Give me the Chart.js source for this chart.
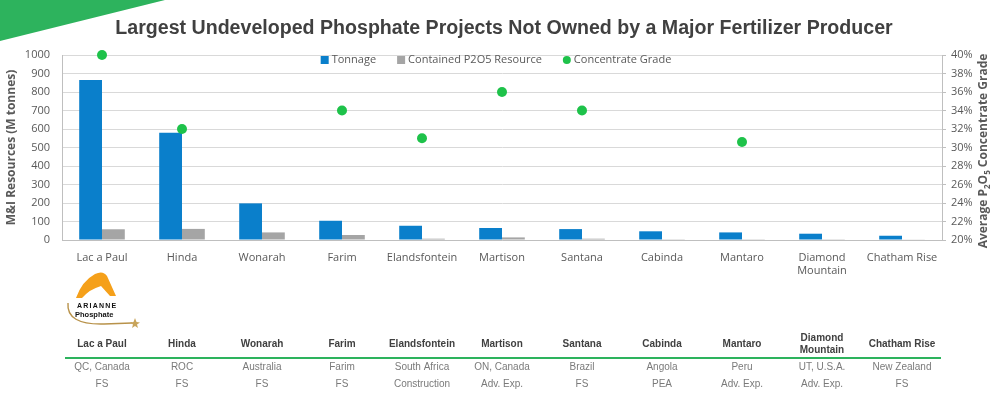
<!DOCTYPE html>
<html>
<head>
<meta charset="utf-8">
<script src="https://cdn.jsdelivr.net/npm/chart.js@4.4.1/dist/chart.umd.min.js"></script>
<style>
  html, body { margin: 0; padding: 0; background: #fff; }
  #wrap { position: relative; width: 1000px; height: 398px; overflow: hidden; }
  canvas { display: block; }
  #logo { position: absolute; left: 64px; top: 268px; }
</style>
</head>
<body>
<div id="wrap">
  <canvas id="phosChart" width="1000" height="398"></canvas>
  <svg id="logo" width="80" height="64" viewBox="0 0 80 64">
    <path d="M 12 30 Q 18 13 31 6 Q 39 2 43 8 L 52 28 L 46 28 L 37 18 Q 26 21 18 30 Z" fill="#f5a01a"/>
    <path d="M 4 35 Q 2 57 40 56 L 68 55" stroke="#b8924a" stroke-width="1.4" fill="none"/>
    <polygon points="71,50 72.5,54 76,54.5 73,56.5 74,60 71,58 68,60 69,56.5 66,54.5 69.5,54" fill="#c8a45a"/>
    <text x="13" y="40" font-family="Liberation Sans, Arial, sans-serif" font-size="7" font-weight="bold" letter-spacing="1.2" fill="#111">ARIANNE</text>
    <text x="11" y="49" font-family="Liberation Sans, Arial, sans-serif" font-size="7.5" font-weight="bold" fill="#111">Phosphate</text>
  </svg>
</div>
<script>
// --- Data ---
const projects = ['Lac a Paul', 'Hinda', 'Wonarah', 'Farim', 'Elandsfontein', 'Martison',
                  'Santana', 'Cabinda', 'Mantaro', ['Diamond', 'Mountain'], 'Chatham Rise'];
const tonnage = [865, 580, 198, 104, 77, 65, 59, 47, 41, 34, 23];
const p2o5Resource = [58, 60, 41, 27, 7, 14, 7, 4, 4, 4, 2];
const concentrateGrade = [40, 32, null, 34, 31, 36, 34, null, 30.6, null, null];
const locations = ['QC, Canada', 'ROC', 'Australia', 'Farim', 'South Africa', 'ON, Canada',
                   'Brazil', 'Angola', 'Peru', 'UT, U.S.A.', 'New Zealand'];
const stages = ['FS', 'FS', 'FS', 'FS', 'Construction', 'Adv. Exp.',
                'FS', 'PEA', 'Adv. Exp.', 'Adv. Exp.', 'FS'];
const leftTicks = [0, 1000, 100];   // min, max, step
const rightTicks = [20, 40, 2];

const BLUE = '#0a7fcb';
const GREY = '#a5a5a5';
const GREEN = '#1ec24a';
const TXT = '#595959';
const SANS = '"Open Sans", sans-serif';
const ARIAL = '"Liberation Sans", Arial, sans-serif';

// --- Decorations: title, green corner, legend, right title, table ---
const decor = {
    id: 'decor',
    beforeDraw(chart) {
        const ctx = chart.ctx;
        ctx.save();
        ctx.fillStyle = '#2db35d';
        ctx.beginPath();
        ctx.moveTo(0, 0); ctx.lineTo(165, 0); ctx.lineTo(0, 41); ctx.closePath();
        ctx.fill();
        ctx.restore();
    },
    afterDraw(chart) {
        const ctx = chart.ctx;
        const xs = chart.scales.x;
        ctx.save();

        // Title
        ctx.fillStyle = '#404040';
        ctx.font = 'bold 19.6px ' + ARIAL;
        ctx.textAlign = 'center';
        ctx.textBaseline = 'alphabetic';
        ctx.fillText('Largest Undeveloped Phosphate Projects Not Owned by a Major Fertilizer Producer', 504, 34);

        // Legend (inside plot area)
        ctx.font = '11px ' + SANS;
        ctx.textBaseline = 'middle';
        ctx.textAlign = 'left';
        const items = [
            { text: 'Tonnage', color: BLUE, shape: 'box' },
            { text: 'Contained P2O5 Resource', color: GREY, shape: 'box' },
            { text: 'Concentrate Grade', color: GREEN, shape: 'dot' }
        ];
        const gap = 21, sym = 8, pad = 3;
        let total = 0;
        items.forEach((it, i) => {
            total += sym + pad + ctx.measureText(it.text).width + (i < items.length - 1 ? gap : 0);
        });
        let lx = 496 - total / 2;
        const ly = 60;
        items.forEach(it => {
            ctx.fillStyle = it.color;
            if (it.shape === 'box') {
                ctx.fillRect(lx, ly - 4, sym, sym);
            } else {
                ctx.beginPath();
                ctx.arc(lx + 4, ly, 4, 0, Math.PI * 2);
                ctx.fill();
            }
            lx += sym + pad;
            ctx.fillStyle = TXT;
            ctx.fillText(it.text, lx, ly);
            lx += ctx.measureText(it.text).width + gap;
        });

        // Right axis title, reading bottom to top, with subscripts
        ctx.translate(984, 151);
        ctx.rotate(-Math.PI / 2);
        const parts = [
            ['Average P', false], ['2', true], ['O', false], ['5', true], [' Concentrate Grade', false]
        ];
        const big = 'bold 12px ' + SANS, small = 'bold 8px ' + SANS;
        let w = 0;
        parts.forEach(p => { ctx.font = p[1] ? small : big; w += ctx.measureText(p[0]).width; });
        let tx = -w / 2;
        ctx.fillStyle = TXT;
        ctx.textAlign = 'left';
        parts.forEach(p => {
            ctx.font = p[1] ? small : big;
            ctx.fillText(p[0], tx, p[1] ? 4 : 0);
            tx += ctx.measureText(p[0]).width;
        });
        ctx.setTransform(1, 0, 0, 1, 0, 0);

        // Table under the chart
        ctx.textAlign = 'center';
        ctx.textBaseline = 'middle';
        projects.forEach((name, i) => {
            const cx = xs.getPixelForValue(i);
            ctx.font = 'bold 10px ' + ARIAL;
            ctx.fillStyle = '#404040';
            if (Array.isArray(name)) {
                ctx.fillText(name[0], cx, 338);
                ctx.fillText(name[1], cx, 350);
            } else {
                ctx.fillText(name, cx, 344);
            }
            ctx.font = '10px ' + ARIAL;
            ctx.fillStyle = '#7a7a7a';
            ctx.fillText(locations[i], cx, 367);
            ctx.fillText(stages[i], cx, 384);
        });
        ctx.strokeStyle = '#2db35d';
        ctx.lineWidth = 2;
        ctx.beginPath();
        ctx.moveTo(65, 358); ctx.lineTo(941, 358);
        ctx.stroke();

        ctx.restore();
    }
};

// --- Chart ---
const ctx = document.getElementById('phosChart').getContext('2d');
new Chart(ctx, {
    type: 'bar',
    data: {
        labels: projects,
        datasets: [
            {
                label: 'Tonnage',
                data: tonnage,
                backgroundColor: BLUE,
                yAxisID: 'y',
                order: 1
            },
            {
                label: 'Contained P2O5 Resource',
                data: p2o5Resource,
                backgroundColor: GREY,
                yAxisID: 'y',
                order: 2
            },
            {
                type: 'line',
                label: 'Concentrate Grade',
                data: concentrateGrade,
                yAxisID: 'y1',
                showLine: false,
                clip: false,
                pointRadius: 5,
                pointHoverRadius: 5,
                pointBorderWidth: 0,
                backgroundColor: GREEN,
                borderColor: GREEN,
                order: 0
            }
        ]
    },
    options: {
        responsive: false,
        animation: false,
        events: [],
        layout: { padding: { top: 55, left: 0, right: 0, bottom: 0 } },
        datasets: { bar: { categoryPercentage: 0.57, barPercentage: 1.0, borderWidth: 0 } },
        plugins: {
            legend: { display: false },
            title: { display: false },
            tooltip: { enabled: false }
        },
        scales: {
            x: {
                grid: { display: false, drawTicks: false },
                border: { color: '#bfbfbf' },
                ticks: { color: TXT, font: { family: SANS, size: 11 }, padding: 11, maxRotation: 0, autoSkip: false },
                afterFit: s => { s.height = 158; }
            },
            y: {
                position: 'left',
                min: leftTicks[0], max: leftTicks[1],
                ticks: { stepSize: leftTicks[2], color: TXT, font: { family: SANS, size: 11 }, padding: 12,
                         callback: v => String(v) },
                grid: { color: '#d9d9d9', drawTicks: false },
                border: { color: '#bfbfbf' },
                title: {
                    display: true, text: 'M&I Resources (M tonnes)', color: TXT,
                    font: { family: SANS, size: 12, weight: 'bold' }, padding: { top: 4, bottom: 0 }
                },
                afterFit: s => { s.width = 62; }
            },
            y1: {
                position: 'right',
                min: rightTicks[0], max: rightTicks[1],
                ticks: { stepSize: rightTicks[2], color: TXT, font: { family: SANS, size: 11 }, padding: 5,
                         callback: v => v + '%' },
                grid: { drawOnChartArea: false, drawTicks: true, tickLength: 4, color: '#bfbfbf' },
                border: { color: '#bfbfbf' },
                afterFit: s => { s.width = 58; }
            }
        }
    },
    plugins: [decor]
});
</script>
</body>
</html>
